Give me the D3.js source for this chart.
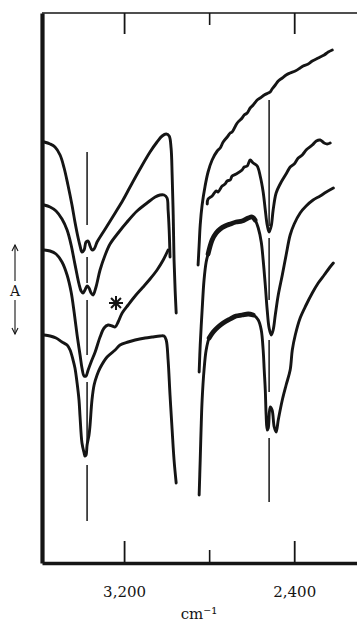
<!DOCTYPE html>
<html><head><meta charset="utf-8">
<script src="https://cdn.jsdelivr.net/npm/d3@7"></script>
<style>html,body{margin:0;padding:0;background:#fff;} svg{display:block;}</style>
</head><body><svg id="c" width="357" height="622"></svg>
<script>
// ---- data: [wavenumber cm-1, signal (arbitrary units)] ----
const trace1Left = [[3576,84.2],[3548,83.8],[3525,83.2],[3501,81.6],[3482,79.0],[3464,75.6],[3445,71.6],[3431,68.2],[3416,65.0],[3407,63.4],[3398,62.2],[3388,62.6],[3379,64.2],[3369,64.4],[3360,63.4],[3351,62.6],[3341,62.8],[3327,64.2],[3304,65.8],[3280,67.4],[3242,70.0],[3205,72.6],[3172,75.2],[3125,78.8],[3078,82.2],[3045,84.2],[3021,85.4],[3002,85.8],[2988,85.4],[2979,83.0],[2974,77.6],[2969,69.6],[2965,60.6],[2960,54.6],[2955,50.0]];
const trace2Left = [[3576,71.6],[3548,71.2],[3520,70.4],[3492,68.8],[3468,66.6],[3449,63.6],[3435,60.6],[3421,57.6],[3412,55.8],[3402,54.4],[3393,54.0],[3384,54.6],[3374,55.4],[3365,55.0],[3355,54.0],[3346,53.6],[3332,55.2],[3313,58.6],[3289,61.6],[3266,63.8],[3228,66.0],[3186,68.2],[3139,70.4],[3092,72.0],[3054,73.2],[3031,73.6],[3012,73.6],[2998,73.0],[2993,70.6],[2988,66.6],[2984,61.2]];
const trace3Left = [[3576,62.6],[3548,62.4],[3520,61.8],[3492,60.2],[3468,57.6],[3449,54.2],[3435,50.2],[3421,45.6],[3407,41.6],[3398,39.0],[3388,37.4],[3379,37.4],[3369,38.6],[3355,40.2],[3336,42.2],[3313,45.2],[3294,47.0],[3275,47.6],[3256,47.4],[3242,47.2],[3228,48.2],[3209,50.0],[3181,51.6],[3148,53.4],[3115,55.0],[3078,56.8],[3045,58.6],[3016,60.6],[2993,62.6]];
const trace4Left = [[3576,45.6],[3548,45.4],[3520,45.0],[3492,44.2],[3468,43.6],[3454,42.6],[3440,40.6],[3431,39.0],[3421,36.0],[3412,32.6],[3407,29.2],[3398,24.0],[3388,22.0],[3384,21.4],[3379,21.6],[3374,23.6],[3365,25.6],[3360,27.6],[3351,32.6],[3341,35.6],[3327,37.6],[3313,39.0],[3280,41.2],[3242,42.6],[3219,43.6],[3181,44.2],[3148,44.6],[3101,45.0],[3068,45.2],[3031,45.4],[3012,45.4],[3002,44.6],[2993,40.6],[2984,33.6],[2974,26.6],[2965,20.6],[2955,16.0]];

const trace1Right = [[2852,59.6],[2847,63.6],[2842,67.6],[2833,71.6],[2819,75.4],[2805,78.2],[2786,80.6],[2762,82.4],[2748,83.0],[2734,84.2],[2715,85.2],[2701,86.0],[2692,86.2],[2668,88.0],[2645,89.0],[2635,89.6],[2621,90.0],[2607,91.0],[2593,91.6],[2574,92.6],[2560,93.0],[2541,93.6],[2522,94.0],[2513,94.2],[2504,94.8],[2489,95.6],[2475,96.4],[2456,97.0],[2438,97.6],[2419,98.0],[2395,98.4],[2372,99.0],[2358,99.4],[2334,99.8],[2315,100.4],[2296,100.8],[2278,101.2],[2259,101.6],[2240,102.2],[2221,102.6]];
const trace2Right = [[2809,71.8],[2805,72.8],[2786,73.4],[2767,74.4],[2758,74.2],[2739,75.4],[2725,75.8],[2715,76.4],[2701,76.6],[2692,77.4],[2673,77.8],[2645,78.6],[2635,79.2],[2621,79.4],[2607,80.6],[2593,80.0],[2574,79.4],[2560,77.4],[2546,74.2],[2536,70.6],[2527,67.6],[2518,66.2],[2508,67.4],[2499,70.6],[2485,74.0],[2466,75.8],[2447,77.2],[2433,78.2],[2419,79.2],[2400,79.8],[2381,81.0],[2362,81.6],[2344,82.6],[2315,83.6],[2296,84.4],[2278,84.6],[2259,84.0],[2245,83.8],[2231,84.0]];
const trace3Right = [[2847,38.2],[2842,43.6],[2833,50.6],[2824,56.6],[2814,60.2],[2805,61.8],[2786,64.6],[2767,66.0],[2748,66.8],[2725,67.4],[2701,67.8],[2673,68.2],[2645,68.4],[2616,69.0],[2598,69.2],[2584,68.6],[2569,67.0],[2555,64.2],[2546,60.6],[2536,55.6],[2527,50.6],[2518,47.0],[2508,45.6],[2499,46.6],[2489,49.6],[2475,53.6],[2456,57.6],[2438,61.6],[2419,65.6],[2400,67.8],[2372,70.0],[2344,71.4],[2311,72.6],[2278,73.4],[2249,74.2],[2216,75.0]];
const trace4Right = [[2847,13.6],[2842,20.6],[2838,26.6],[2833,32.6],[2824,38.6],[2814,42.6],[2800,45.0],[2781,46.2],[2758,47.2],[2734,48.0],[2701,48.8],[2673,49.4],[2645,49.6],[2616,49.8],[2593,49.6],[2569,48.6],[2555,46.6],[2546,42.6],[2541,38.6],[2536,34.6],[2532,29.6],[2527,26.6],[2522,27.0],[2513,31.2],[2504,30.6],[2494,27.2],[2485,26.2],[2475,28.6],[2456,32.6],[2438,35.6],[2419,38.6],[2409,42.6],[2395,45.6],[2372,49.0],[2344,51.6],[2315,54.0],[2287,56.0],[2259,57.6],[2235,59.0],[2216,60.0]];

const noisyRange = [2580, 2812];         // band where traces 3 & 4 (right) are noisy
const refLineWavenumbers = [3374, 2518];
const refLineSegments = [
  [[82.2,67.6],[61.2,56.0],[52.6,41.6],[36.2,23.6],[19.6,8.4]],
  [[92.6,67.4],[65.0,52.6],[44.6,34.2],[25.0,12.2]]
];
const majorTicks = [3200, 2400];
const minorTicks = [2800];
const tickLabels = ["3,200", "2,400"];
const starMark = [3238, 52.0];
const axisTitle = "cm\u207B\u00B9";
const sideLabel = "A";

// ---- drawing ----
const svg = d3.select("#c");
const x = d3.scaleLinear().domain([3586, 2100]).range([42, 358]);
const y = d3.scaleLinear().domain([0, 110]).range([563, 13]);
const ink = "#151515";
const serif = "'DejaVu Serif', serif";

// frame
svg.append("line").attr("x1", x(3586)).attr("x2", 357).attr("y1", y(110)).attr("y2", y(110))
  .attr("stroke", ink).attr("stroke-width", 1.6);

const bottomAxis = d3.axisBottom(x).tickValues(majorTicks).tickFormat((d,i)=>tickLabels[i])
  .tickSizeInner(-22).tickSizeOuter(0).tickPadding(23);
const gb = svg.append("g").attr("transform", `translate(0,${y(0)})`).call(bottomAxis);
gb.select(".domain").attr("stroke", ink).attr("stroke-width", 3.5);
gb.selectAll(".tick line").attr("stroke", ink).attr("stroke-width", 1.8);
gb.selectAll(".tick text").attr("font-family", serif).attr("font-size", 15).attr("fill", ink);
const gbm = svg.append("g").attr("transform", `translate(0,${y(0)})`)
  .call(d3.axisBottom(x).tickValues(minorTicks).tickFormat("").tickSizeInner(-13).tickSizeOuter(0));
gbm.select(".domain").remove();
gbm.selectAll(".tick line").attr("stroke", ink).attr("stroke-width", 1.6);

const gt = svg.append("g").attr("transform", `translate(0,${y(110)})`)
  .call(d3.axisTop(x).tickValues(majorTicks).tickFormat("").tickSizeInner(-21).tickSizeOuter(0));
gt.select(".domain").remove();
gt.selectAll(".tick line").attr("stroke", ink).attr("stroke-width", 1.8);
const gtm = svg.append("g").attr("transform", `translate(0,${y(110)})`)
  .call(d3.axisTop(x).tickValues(minorTicks).tickFormat("").tickSizeInner(-12).tickSizeOuter(0));
gtm.select(".domain").remove();
gtm.selectAll(".tick line").attr("stroke", ink).attr("stroke-width", 1.6);

const gl = svg.append("g").attr("transform", `translate(${x(3586)},0)`)
  .call(d3.axisLeft(y).tickValues([]).tickSizeOuter(0));
gl.select(".domain").attr("stroke", ink).attr("stroke-width", 4.2);

// reference lines
refLineWavenumbers.forEach((wn, i) => {
  svg.append("g").selectAll("line").data(refLineSegments[i]).join("line")
    .attr("x1", x(wn)).attr("x2", x(wn))
    .attr("y1", d => y(d[0])).attr("y2", d => y(d[1]))
    .attr("stroke", ink).attr("stroke-width", 1.5);
});

// traces
const line = d3.line().x(d => x(d[0])).y(d => y(d[1])).curve(d3.curveCatmullRom.alpha(0.5));
const traces = [trace1Left, trace2Left, trace3Left, trace4Left, trace1Right, trace2Right, trace3Right, trace4Right];
svg.append("g").selectAll("path").data(traces).join("path")
  .attr("d", line).attr("fill", "none").attr("stroke", ink)
  .attr("stroke-width", 2.9).attr("stroke-linejoin", "round").attr("stroke-linecap", "round");

// noisy thick bands
const noisy = [trace3Right, trace4Right].map(t => t.filter(d => d[0] >= noisyRange[0] && d[0] <= noisyRange[1]));
svg.append("g").selectAll("path").data(noisy).join("path")
  .attr("d", line).attr("fill", "none").attr("stroke", ink)
  .attr("stroke-width", 4.8).attr("stroke-linejoin", "round").attr("stroke-linecap", "round");

// asterisk marker
const sx = x(starMark[0]), sy = y(starMark[1]), r = 7;
const g = svg.append("g");
[0, 45, 90, 135].forEach(a => {
  const rad = a * Math.PI / 180;
  g.append("line").attr("x1", sx - r*Math.cos(rad)).attr("y1", sy - r*Math.sin(rad))
    .attr("x2", sx + r*Math.cos(rad)).attr("y2", sy + r*Math.sin(rad))
    .attr("stroke", ink).attr("stroke-width", 2);
});

// axis title
svg.append("text").attr("x", 199).attr("y", 619).attr("text-anchor", "middle")
  .attr("font-family", serif).attr("font-size", 15).attr("fill", ink).text(axisTitle);

// A with arrows
const ax = 15;
const arrowG = svg.append("g").attr("stroke", ink).attr("stroke-width", 1.1).attr("fill", "none");
arrowG.append("line").attr("x1", ax).attr("x2", ax).attr("y1", 245).attr("y2", 281);
arrowG.append("path").attr("d", `M${ax-3},${251}L${ax},${245}L${ax+3},${251}`);
arrowG.append("line").attr("x1", ax).attr("x2", ax).attr("y1", 300).attr("y2", 334);
arrowG.append("path").attr("d", `M${ax-3},${328}L${ax},${334}L${ax+3},${328}`);
svg.append("text").attr("x", ax).attr("y", 296).attr("text-anchor", "middle")
  .attr("font-family", serif).attr("font-size", 14).attr("fill", ink).text(sideLabel);
</script>
</body></html>
